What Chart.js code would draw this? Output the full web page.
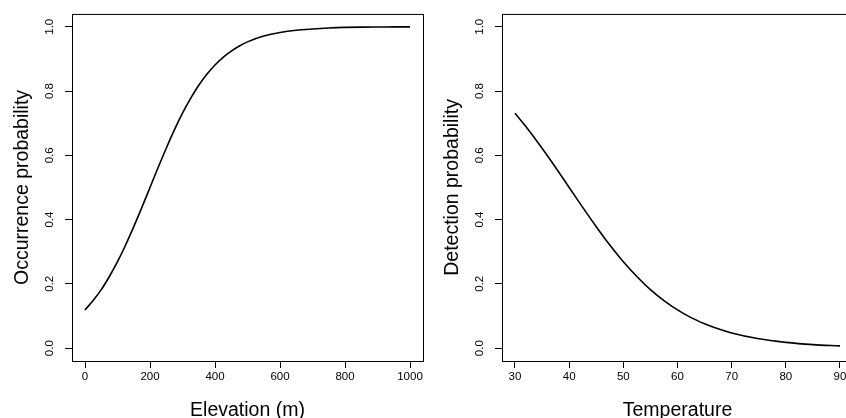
<!DOCTYPE html>
<html>
<head>
<meta charset="utf-8">
<script src="https://cdn.jsdelivr.net/npm/chart.js@4"></script>
<style>
  html, body { margin: 0; padding: 0; background: #fff; overflow: hidden; width: 846px; height: 418px; }
  .panel { position: absolute; top: 0; width: 430px; height: 418px; }
  #left { left: 0; }
  #right { left: 430px; }
</style>
</head>
<body>
<div class="panel" id="left"><canvas id="occChart" width="430" height="418"></canvas></div>
<div class="panel" id="right"><canvas id="detChart" width="430" height="418"></canvas></div>
<script>
// values
const elevation = [0, 25, 50, 75, 100, 125, 150, 175, 200, 225, 250, 275, 300, 325, 350, 375, 400, 425, 450, 475, 500, 550, 600, 650, 700, 750, 800, 850, 900, 950, 1000];
const occurrence = [0.119, 0.148, 0.182, 0.223, 0.269, 0.321, 0.378, 0.438, 0.50, 0.562, 0.622, 0.679, 0.731, 0.777, 0.818, 0.852, 0.881, 0.905, 0.924, 0.94, 0.953, 0.971, 0.982, 0.989, 0.993, 0.996, 0.998, 0.999, 0.9991, 0.9995, 0.9997];

const temperature = [30, 32.5, 35, 37.5, 40, 42.5, 45, 47.5, 50, 52.5, 55, 57.5, 60, 62.5, 65, 67.5, 70, 75, 80, 85, 90];
const detection = [0.731, 0.679, 0.622, 0.562, 0.50, 0.438, 0.378, 0.321, 0.269, 0.223, 0.182, 0.148, 0.119, 0.095, 0.076, 0.06, 0.047, 0.029, 0.018, 0.011, 0.007];

const elevTicks = [0, 200, 400, 600, 800, 1000];
const tempTicks = [30, 40, 50, 60, 70, 80, 90];
const probTicks = [0, 0.2, 0.4, 0.6, 0.8, 1.0];

const FONT = "'Liberation Sans', Arial, Helvetica, sans-serif";

// R-style box round the plot region
const boxPlugin = {
  id: 'box',
  afterDraw(chart) {
    const { ctx, chartArea: a } = chart;
    ctx.save();
    ctx.strokeStyle = '#000';
    ctx.lineWidth = 1;
    ctx.strokeRect(a.left + 0.5, a.top + 0.5, a.right - a.left, a.bottom - a.top);
    ctx.restore();
  },
};

function makePanel(id, xs, ys, xTicks, xTitle, yTitle) {
  const xSpan = xTicks[xTicks.length - 1] - xTicks[0];
  new Chart(document.getElementById(id), {
    type: 'line',
    data: {
      datasets: [{
        data: xs.map((x, i) => ({ x: x, y: ys[i] })),
        borderColor: '#000',
        borderWidth: 1.6,
        pointRadius: 0,
        fill: false,
        cubicInterpolationMode: 'monotone',
      }],
    },
    options: {
      responsive: false,
      animation: false,
      events: [],
      layout: { padding: { top: 10, right: 7, left: 0, bottom: 0 } },
      plugins: { legend: { display: false }, tooltip: { enabled: false } },
      scales: {
        x: {
          type: 'linear',
          min: xTicks[0] - 0.04 * xSpan,
          max: xTicks[xTicks.length - 1] + 0.04 * xSpan,
          afterBuildTicks: (s) => { s.ticks = xTicks.map((v) => ({ value: v })); },
          afterFit: (s) => { s.height = 57; },
          border: { display: false },
          grid: { drawOnChartArea: false, drawTicks: true, tickLength: 7, color: '#000', lineWidth: 1 },
          ticks: {
            autoSkip: false, maxRotation: 0, padding: 2, color: '#000',
            font: { family: FONT, size: 11.5 },
            callback: (v) => String(v),
          },
          title: {
            display: true, text: xTitle, color: '#000',
            font: { family: FONT, size: 19.5, lineHeight: 0.8 },
            padding: { top: 0, bottom: 0 },
          },
        },
        y: {
          min: -0.04,
          max: 1.04,
          afterBuildTicks: (s) => { s.ticks = probTicks.map((v) => ({ value: v })); },
          afterFit: (s) => { s.width = 72; },
          border: { display: false },
          grid: { drawOnChartArea: false, drawTicks: true, tickLength: 7, color: '#000', lineWidth: 1 },
          ticks: {
            autoSkip: false, minRotation: 90, maxRotation: 90, crossAlign: 'center', padding: 7, color: '#000',
            font: { family: FONT, size: 11.5 },
            callback: (v) => v.toFixed(1),
          },
          title: {
            display: true, text: yTitle, color: '#000',
            font: { family: FONT, size: 19.5, lineHeight: 0.8 },
            padding: { top: 14.5, bottom: 0 },
          },
        },
      },
    },
    plugins: [boxPlugin],
  });
}

makePanel('occChart', elevation, occurrence, elevTicks, 'Elevation (m)', 'Occurrence probability');
makePanel('detChart', temperature, detection, tempTicks, 'Temperature', 'Detection probability');
</script>
</body>
</html>
